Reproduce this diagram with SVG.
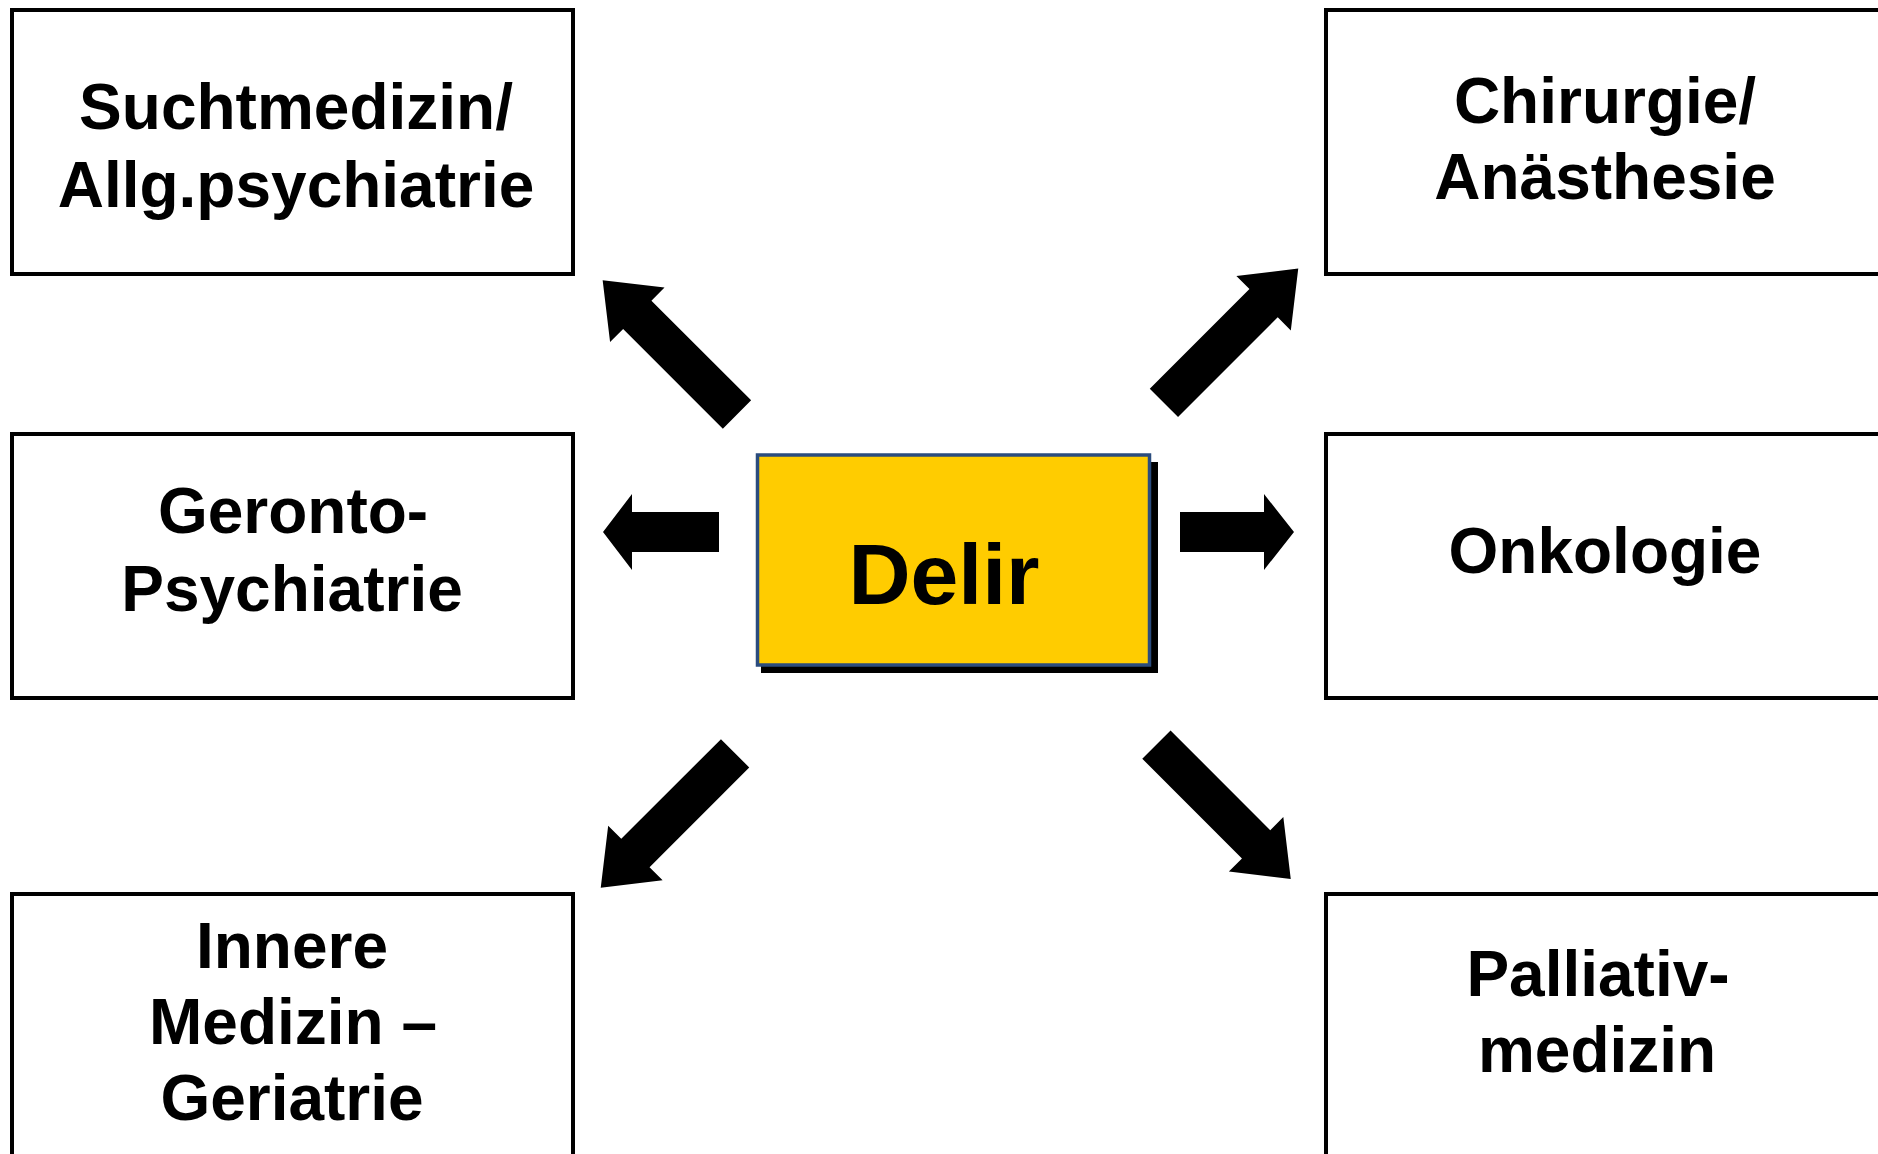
<svg xmlns="http://www.w3.org/2000/svg" width="1878" height="1154" viewBox="0 0 1878 1154">
<defs>
<style>
.box{fill:#ffffff;stroke:#000000;stroke-width:4}
.lbl{font-family:"Liberation Sans",Arial,sans-serif;font-weight:bold;font-size:64px;fill:#000000;text-anchor:middle}
.arrow{fill:#000000;stroke:none}
</style>
<polygon id="diag" points="0,-20 141,-20 141,-38.5 190,0 141,38.5 141,20 0,20"/>
</defs>
<rect width="1878" height="1154" fill="#ffffff"/>
<g id="n-sucht">
<rect class="box" x="12" y="10" width="561" height="264"/>
<text class="lbl" x="296" y="129">Suchtmedizin/</text>
<text class="lbl" x="296" y="207">Allg.psychiatrie</text>
</g>
<g id="n-chirurgie">
<rect class="box" x="1326" y="10" width="561" height="264"/>
<text class="lbl" x="1605" y="123">Chirurgie/</text>
<text class="lbl" x="1605" y="199">Anästhesie</text>
</g>
<g id="n-geronto">
<rect class="box" x="12" y="434" width="561" height="264"/>
<text class="lbl" x="293" y="533">Geronto-</text>
<text class="lbl" x="292" y="611">Psychiatrie</text>
</g>
<g id="n-onko">
<rect class="box" x="1326" y="434" width="561" height="264"/>
<text class="lbl" x="1605" y="573">Onkologie</text>
</g>
<g id="n-innere">
<rect class="box" x="12" y="894" width="561" height="264"/>
<text class="lbl" x="292" y="968">Innere</text>
<text class="lbl" x="293" y="1044">Medizin –</text>
<text class="lbl" x="292" y="1120">Geriatrie</text>
</g>
<g id="n-palliativ">
<rect class="box" x="1326" y="894" width="561" height="264"/>
<text class="lbl" x="1598" y="996">Palliativ-</text>
<text class="lbl" x="1597" y="1072">medizin</text>
</g>
<g id="n-delir">
<rect x="761" y="462" width="397" height="211" fill="#000000"/>
<rect x="757.5" y="455" width="392" height="210" fill="#FFCC00" stroke="#2B4C7E" stroke-width="3.5"/>
<text x="944" y="604" style="font-family:'Liberation Sans',Arial,sans-serif;font-weight:bold;font-size:86px;fill:#000000;text-anchor:middle">Delir</text>
</g>
<g id="connectors" class="arrow">
<polygon points="603,532 632,494 632,512 719,512 719,552 632,552 632,570"/>
<polygon points="1180,512 1264,512 1264,494 1294,532 1264,570 1264,552 1180,552"/>
<use href="#diag" transform="translate(737,414.5) rotate(-135)"/>
<use href="#diag" transform="translate(1163.9,402.9) rotate(-45)"/>
<use href="#diag" transform="translate(735.1,753.3) rotate(135)"/>
<use href="#diag" transform="translate(1156.4,744.6) rotate(45)"/>
</g>
</svg>
